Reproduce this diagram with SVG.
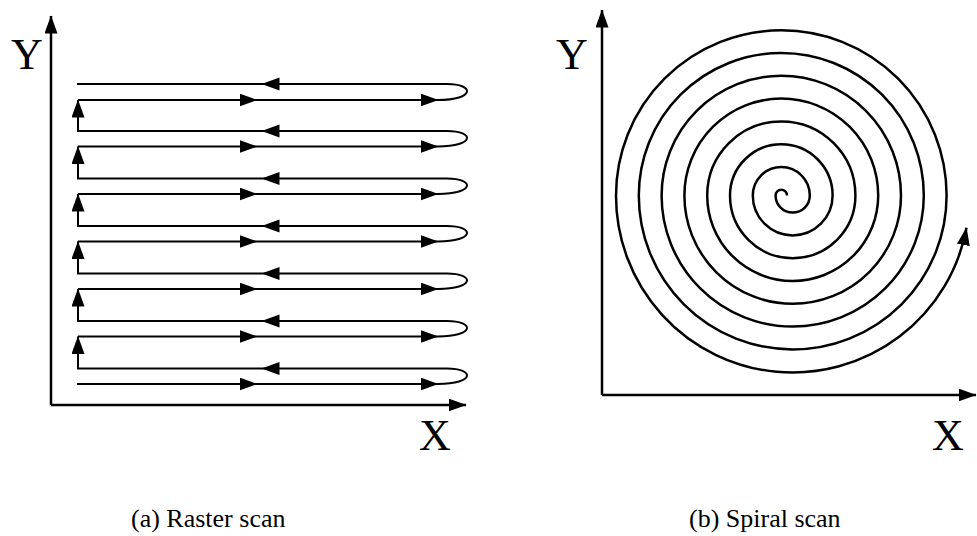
<svg xmlns="http://www.w3.org/2000/svg" width="977" height="536" viewBox="0 0 977 536">
<style>
.ln{fill:none;stroke:#000;stroke-width:2}
.ax{fill:none;stroke:#000;stroke-width:2.5}
.sp{fill:none;stroke:#000;stroke-width:2.5}
.lbl{font-size:44px;fill:#000;text-anchor:middle}
.cap{font-size:26px;fill:#000}
</style>
<defs>
<marker id="ah" markerUnits="userSpaceOnUse" markerWidth="20" markerHeight="14" refX="17.5" refY="6.5" orient="auto">
<path d="M0,0 L18,6.5 L0,13 z" fill="#000"/>
</marker>
</defs>
<rect width="977" height="536" fill="#fff"/>

<g id="raster-axes">
<path class="ax" d="M51,405 V16" marker-end="url(#ah)"/>
<path class="ax" d="M51,405 H466" marker-end="url(#ah)"/>
<text class="lbl" font-family="Liberation Serif, Times New Roman, DejaVu Serif, serif" x="27" y="69">Y</text>
<text class="lbl" font-family="Liberation Serif, Times New Roman, DejaVu Serif, serif" x="435" y="450">X</text>
</g>

<g id="raster-path">
<path class="ln" d="M78,100 H257" marker-end="url(#ah)"/>
<path class="ln" d="M257,100 H438" marker-end="url(#ah)"/>
<path class="ln" d="M438,100 C475,100 475,84 447,84"/>
<path class="ln" d="M447,84 H262" marker-end="url(#ah)"/>
<path class="ln" d="M262,84 H77"/>
<path class="ln" d="M78,146.5 H257" marker-end="url(#ah)"/>
<path class="ln" d="M257,146.5 H438" marker-end="url(#ah)"/>
<path class="ln" d="M438,146.5 C475,146.5 475,131 447,131"/>
<path class="ln" d="M447,131 H262" marker-end="url(#ah)"/>
<path class="ln" d="M262,131 H78 V100" marker-end="url(#ah)"/>
<path class="ln" d="M78,194 H257" marker-end="url(#ah)"/>
<path class="ln" d="M257,194 H438" marker-end="url(#ah)"/>
<path class="ln" d="M438,194 C475,194 475,178.5 447,178.5"/>
<path class="ln" d="M447,178.5 H262" marker-end="url(#ah)"/>
<path class="ln" d="M262,178.5 H78 V146.5" marker-end="url(#ah)"/>
<path class="ln" d="M78,241.5 H257" marker-end="url(#ah)"/>
<path class="ln" d="M257,241.5 H438" marker-end="url(#ah)"/>
<path class="ln" d="M438,241.5 C475,241.5 475,226 447,226"/>
<path class="ln" d="M447,226 H262" marker-end="url(#ah)"/>
<path class="ln" d="M262,226 H78 V194" marker-end="url(#ah)"/>
<path class="ln" d="M78,289 H257" marker-end="url(#ah)"/>
<path class="ln" d="M257,289 H438" marker-end="url(#ah)"/>
<path class="ln" d="M438,289 C475,289 475,273.5 447,273.5"/>
<path class="ln" d="M447,273.5 H262" marker-end="url(#ah)"/>
<path class="ln" d="M262,273.5 H78 V241.5" marker-end="url(#ah)"/>
<path class="ln" d="M78,336.5 H257" marker-end="url(#ah)"/>
<path class="ln" d="M257,336.5 H438" marker-end="url(#ah)"/>
<path class="ln" d="M438,336.5 C475,336.5 475,321 447,321"/>
<path class="ln" d="M447,321 H262" marker-end="url(#ah)"/>
<path class="ln" d="M262,321 H78 V289" marker-end="url(#ah)"/>
<path class="ln" d="M77,384 H257" marker-end="url(#ah)"/>
<path class="ln" d="M257,384 H438" marker-end="url(#ah)"/>
<path class="ln" d="M438,384 C475,384 475,368.5 447,368.5"/>
<path class="ln" d="M447,368.5 H262" marker-end="url(#ah)"/>
<path class="ln" d="M262,368.5 H78 V336.5" marker-end="url(#ah)"/>
</g>

<g id="spiral-axes">
<path class="ax" d="M602,395 V10" marker-end="url(#ah)"/>
<path class="ax" d="M602,395 H976" marker-end="url(#ah)"/>
<text class="lbl" font-family="Liberation Serif, Times New Roman, DejaVu Serif, serif" x="572" y="69">Y</text>
<text class="lbl" font-family="Liberation Serif, Times New Roman, DejaVu Serif, serif" x="948" y="450">X</text>
</g>

<g id="spiral">
<path class="sp" d="M787,195.5 A5.7,5.7 0 0 0 775.6,195.5 A17.1,17.1 0 0 0 809.8,195.5 A28.5,28.5 0 0 0 752.8,195.5 A39.9,39.9 0 0 0 832.6,195.5 A51.3,51.3 0 0 0 730,195.5 A62.7,62.7 0 0 0 855.4,195.5 A74.1,74.1 0 0 0 707.2,195.5 A85.5,85.5 0 0 0 878.2,195.5 A96.9,96.9 0 0 0 684.4,195.5 A108.3,108.3 0 0 0 901,195.5 A119.7,119.7 0 0 0 661.6,195.5 A131.1,131.1 0 0 0 923.8,195.5 A142.5,142.5 0 0 0 638.8,195.5 A153.9,153.9 0 0 0 946.6,195.5 A165.3,165.3 0 0 0 616,195.5 A176.7,176.7 0 0 0 966.5,227.7" marker-end="url(#ah)"/>
</g>

<g id="captions">
<text class="cap" font-family="Liberation Serif, Times New Roman, DejaVu Serif, serif" x="131" y="527">(a) Raster scan</text>
<text class="cap" font-family="Liberation Serif, Times New Roman, DejaVu Serif, serif" x="689" y="527">(b) Spiral scan</text>
</g>
</svg>
